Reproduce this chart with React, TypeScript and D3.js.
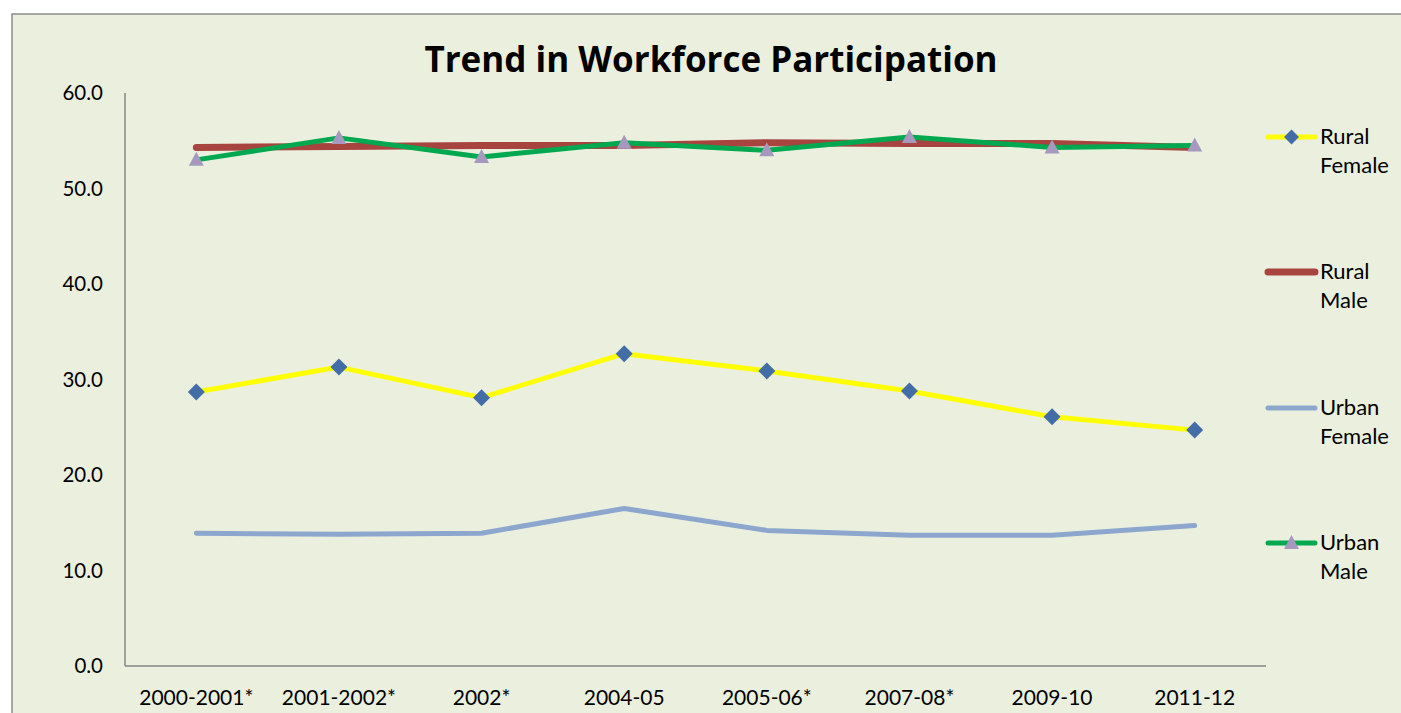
import React from "react";
import * as d3 from "d3";

const categories = ["2000-2001*", "2001-2002*", "2002*", "2004-05", "2005-06*", "2007-08*", "2009-10", "2011-12"];
const ruralFemale = [28.7, 31.3, 28.1, 32.7, 30.9, 28.8, 26.1, 24.7];
const ruralMale = [54.3, 54.4, 54.5, 54.5, 54.8, 54.7, 54.7, 54.3];
const urbanFemale = [13.9, 13.8, 13.9, 16.5, 14.2, 13.7, 13.7, 14.7];
const urbanMale = [53.0, 55.3, 53.3, 54.8, 54.0, 55.4, 54.3, 54.5];
const yTicks = [0, 10, 20, 30, 40, 50, 60];

const series = [
  { name: ["Rural", "Female"], values: ruralFemale, color: "#FFFF00", width: 5, marker: "diamond", mcolor: "#436DA6" },
  { name: ["Rural", "Male"], values: ruralMale, color: "#A8443F", width: 7, marker: "none", mcolor: "" },
  { name: ["Urban", "Female"], values: urbanFemale, color: "#8DA6CE", width: 5, marker: "none", mcolor: "" },
  { name: ["Urban", "Male"], values: urbanMale, color: "#00A94F", width: 5, marker: "triangle", mcolor: "#A698BF" },
];

const W = 1401, H = 713;
const left = 125, right = 1266, top = 93, bottom = 666;
const font = "Lato, 'Open Sans', sans-serif";
const titleFont = "'Open Sans', Lato, sans-serif";

export default function App() {
  const x = d3.scaleBand().domain(categories).range([left, right]);
  const y = d3.scaleLinear().domain([0, 60]).range([bottom, top]);
  const line = d3.line<number>().x((_, i) => (x(categories[i]) as number) + x.bandwidth() / 2).y((d) => y(d));
  const diamond = (cx: number, cy: number, r = 8.5) => `M${cx},${cy - r}L${cx + r},${cy}L${cx},${cy + r}L${cx - r},${cy}Z`;
  const tri = (cx: number, cy: number) => `M${cx},${cy - 8}L${cx + 7.5},${cy + 6}L${cx - 7.5},${cy + 6}Z`;
  const legendY = [137, 272, 408, 543];

  return (
    <svg width={W} height={H} style={{ position: "absolute", left: 0, top: 0 }}>
      <rect x={12} y={14} width={W + 20} height={H} fill="#EBF0DE" stroke="#8C8C8C" strokeWidth={1.5} />
      <text x={711} y={72} textAnchor="middle" fontFamily={titleFont} fontWeight="bold" fontSize={35} fill="#000">
        Trend in Workforce Participation
      </text>
      <line x1={left} x2={left} y1={top} y2={bottom} stroke="#868686" strokeWidth={1.5} />
      <line x1={left} x2={right} y1={bottom} y2={bottom} stroke="#868686" strokeWidth={1.5} />
      {yTicks.map((t) => (
        <text key={t} x={103} y={y(t) + 7} textAnchor="end" fontFamily={font} fontSize={20.5} fill="#000">
          {t.toFixed(1)}
        </text>
      ))}
      {categories.map((c) => (
        <text key={c} x={(x(c) as number) + x.bandwidth() / 2} y={705} textAnchor="middle" fontFamily={font} fontSize={21} fill="#000">
          {c}
        </text>
      ))}
      {series.map((s, si) => (
        <g key={si}>
          <path d={line(s.values) || ""} fill="none" stroke={s.color} strokeWidth={s.width} strokeLinejoin="round" strokeLinecap="round" />
          {s.values.map((v, i) => {
            const cx = (x(categories[i]) as number) + x.bandwidth() / 2;
            const cy = y(v);
            if (s.marker === "diamond") return <path key={i} d={diamond(cx, cy)} fill={s.mcolor} />;
            if (s.marker === "triangle") return <path key={i} d={tri(cx, cy)} fill={s.mcolor} />;
            return null;
          })}
        </g>
      ))}
      {series.map((s, si) => {
        const ly = legendY[si];
        return (
          <g key={"l" + si}>
            <line x1={1268} x2={1315} y1={ly} y2={ly} stroke={s.color} strokeWidth={s.width} strokeLinecap="round" />
            {s.marker === "diamond" && <path d={diamond(1291.5, ly, 7.5)} fill={s.mcolor} />}
            {s.marker === "triangle" && <path d={tri(1291.5, ly)} fill={s.mcolor} />}
            <text x={1320} y={ly + 7} fontFamily={font} fontSize={22} fill="#000">{s.name[0]}</text>
            <text x={1320} y={ly + 36} fontFamily={font} fontSize={22} fill="#000">{s.name[1]}</text>
          </g>
        );
      })}
    </svg>
  );
}
